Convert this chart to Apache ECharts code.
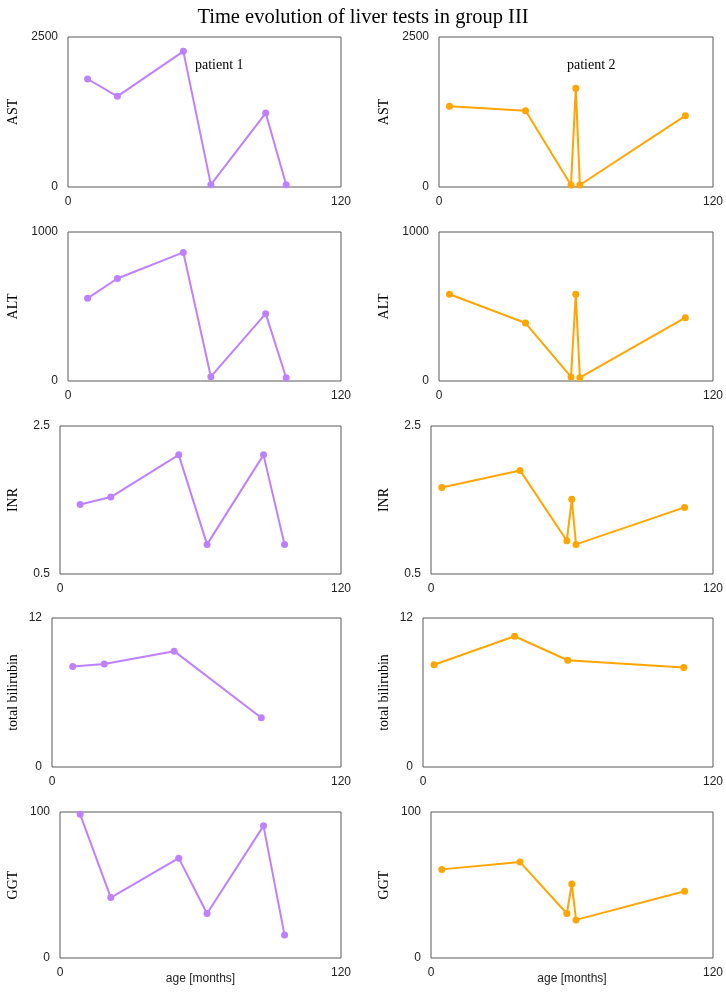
<!DOCTYPE html>
<html>
<head>
<meta charset="utf-8">
<script src="https://cdn.jsdelivr.net/npm/echarts@6/dist/echarts.min.js"></script>
<style>
html,body{margin:0;padding:0;background:#fff;}
#chart{width:726px;height:992px;}
</style>
</head>
<body>
<div id="chart"></div>
<script>
// ---- data ----
const tests = ['AST', 'ALT', 'INR', 'total bilirubin', 'GGT'];
const yMin = [0, 0, 0.5, 0, 0];
const yMax = [2500, 1000, 2.5, 12, 100];
const xTicks = [0, 120];

const p1Age = [8.6, 21.7, 50.7, 62.8, 86.9, 95.9];
const p1AgeBili = [8.6, 21.7, 50.7, 86.9];
const p1AST = [1800, 1511, 2261, 39, 1233, 39];
const p1ALT = [555, 688, 863, 29, 452, 22];
const p1INR = [1.44, 1.54, 2.11, 0.9, 2.11, 0.9];
const p1Bili = [8.1, 8.29, 9.33, 3.96];
const p1GGT = [98.4, 41.4, 68.4, 30.5, 90.5, 15.7];

const p2Age = [4.6, 37.9, 57.8, 59.9, 61.7, 107.9];
const p2AgeBili = [4.6, 37.9, 59.9, 107.9];
const p2AST = [1344, 1272, 33, 1644, 33, 1189];
const p2ALT = [582, 389, 27, 582, 22, 425];
const p2INR = [1.67, 1.9, 0.95, 1.51, 0.9, 1.4];
const p2Bili = [8.23, 10.53, 8.6, 8.02];
const p2GGT = [60.7, 65.7, 30.5, 50.7, 26.1, 45.7];

const patientLabels = ['patient 1', 'patient 2'];
const xAxisTitle = 'age [months]';
const titleText = 'Time evolution of liver tests in group III';

// ---- layout ----
const rowTop = [37, 232, 426, 618, 812];
const rowBottom = [187, 381, 574, 767, 958];
const leftColLeft = [68, 68, 60, 52, 60];
const rightColLeft = [439, 439, 431, 423, 431];
const colRight = [341, 713];
const nameCenter = [13, 384];
const colors = ['#BF80FF', '#FFA500'];

const p1Series = [[p1Age, p1AST], [p1Age, p1ALT], [p1Age, p1INR], [p1AgeBili, p1Bili], [p1Age, p1GGT]];
const p2Series = [[p2Age, p2AST], [p2Age, p2ALT], [p2Age, p2INR], [p2AgeBili, p2Bili], [p2Age, p2GGT]];

const plainNum = v => String(Math.round(v * 1000) / 1000);

const grids = [], xAxes = [], yAxes = [], series = [];
for (let c = 0; c < 2; c++) {
  for (let r = 0; r < 5; r++) {
    const idx = grids.length;
    const left = c === 0 ? leftColLeft[r] : rightColLeft[r];
    grids.push({
      left: left, top: rowTop[r], width: colRight[c] - left, height: rowBottom[r] - rowTop[r],
      show: true, borderColor: '#595959', borderWidth: 1, backgroundColor: 'transparent',
      outerBoundsMode: 'none', containLabel: false
    });
    xAxes.push({
      type: 'value', gridIndex: idx, min: xTicks[0], max: xTicks[1], interval: xTicks[1] - xTicks[0],
      axisLine: {show: false}, axisTick: {show: false}, splitLine: {show: false},
      axisLabel: {fontFamily: 'Liberation Sans', fontSize: 12, color: '#222', margin: 9, formatter: plainNum},
      name: r === 4 ? xAxisTitle : '', nameLocation: 'middle', nameGap: 15, nameMoveOverlap: false,
      nameTextStyle: {fontFamily: 'Liberation Sans', fontSize: 12, color: '#222'}
    });
    yAxes.push({
      type: 'value', gridIndex: idx, min: yMin[r], max: yMax[r], interval: yMax[r] - yMin[r],
      axisLine: {show: false}, axisTick: {show: false}, splitLine: {show: false},
      axisLabel: {fontFamily: 'Liberation Sans', fontSize: 12, color: '#222', margin: 10, formatter: plainNum},
      name: tests[r], nameLocation: 'middle', nameRotate: 90, nameGap: left - nameCenter[c] - 7, nameMoveOverlap: false,
      nameTextStyle: {fontFamily: 'Liberation Serif', fontSize: 14, color: '#000'}
    });
    const src = c === 0 ? p1Series[r] : p2Series[r];
    series.push({
      type: 'line', xAxisIndex: idx, yAxisIndex: idx,
      data: src[0].map((x, i) => [x, src[1][i]]),
      symbol: 'circle', symbolSize: 7, showSymbol: true,
      lineStyle: {color: colors[c], width: 2},
      itemStyle: {color: colors[c]},
      animation: false, silent: true
    });
  }
}

const chart = echarts.init(document.getElementById('chart'), null, {renderer: 'canvas'});
chart.setOption({
  animation: false,
  title: [
    {text: titleText, left: 'center', top: 2, textStyle: {fontFamily: 'Liberation Serif', fontSize: 20.5, fontWeight: 'normal', color: '#000'}},
    {text: patientLabels[0], left: 190, top: 53, textStyle: {fontFamily: 'Liberation Serif', fontSize: 14, fontWeight: 'normal', color: '#000'}},
    {text: patientLabels[1], left: 562, top: 53, textStyle: {fontFamily: 'Liberation Serif', fontSize: 14, fontWeight: 'normal', color: '#000'}}
  ],
  grid: grids, xAxis: xAxes, yAxis: yAxes, series: series
});
</script>
</body>
</html>
